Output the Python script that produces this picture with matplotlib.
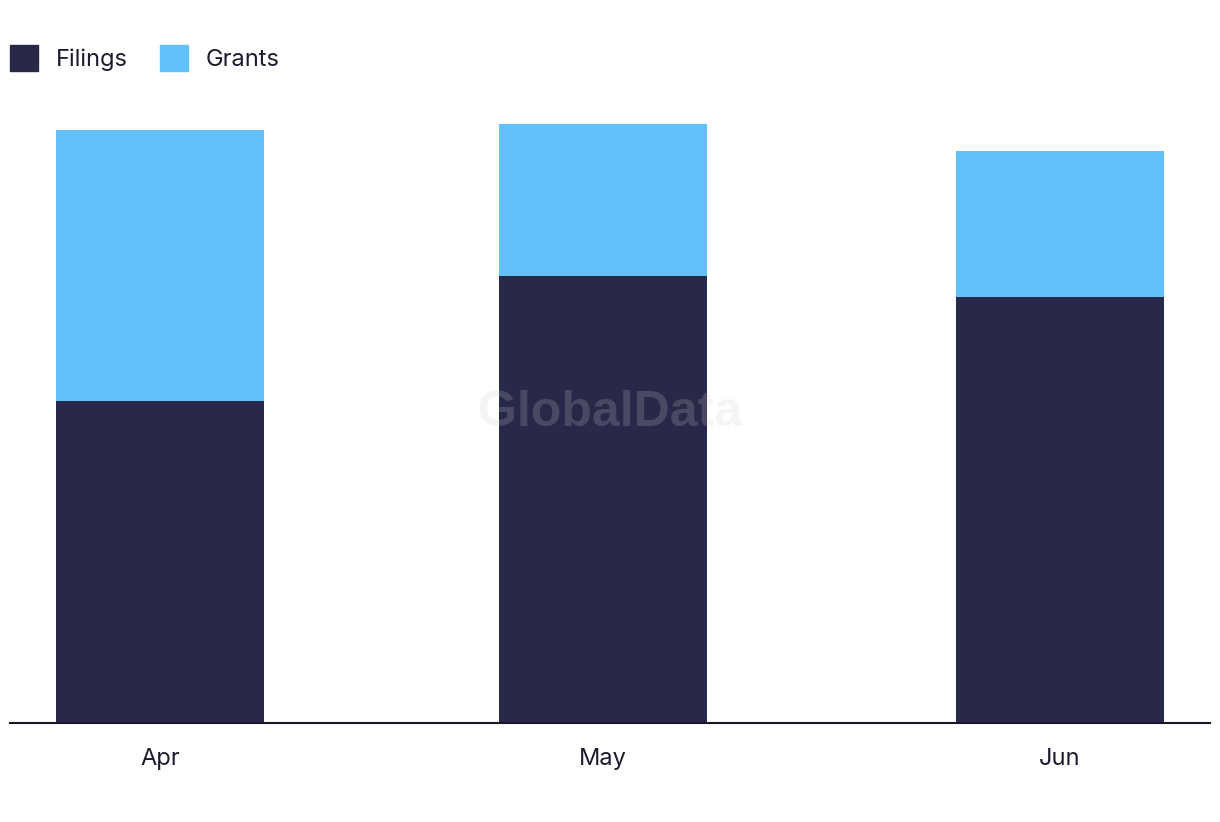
import matplotlib
matplotlib.use("Agg")
import matplotlib.pyplot as plt
import matplotlib.dates as mdates
from matplotlib.patches import Patch

months = ["Apr", "May", "Jun"]
dates = ["2023-04-01", "2023-05-01", "2023-06-01"]
filings = [322, 447, 426]
grants = [271, 152, 146]

c_fil = "#282849"
c_gr = "#62c1f8"
txt = "#1c1c30"

plt.rcParams['font.family'] = ['Inter', 'DejaVu Sans']

fig = plt.figure(figsize=(12.2, 8.22), dpi=100)
ax = fig.add_axes([10/1220, 1-723/822, 1200/1220, 623/822])

x = mdates.datestr2num(dates)
w = 14.1
ax.bar(x, filings, width=w, color=c_fil, label="Filings", zorder=2)
ax.bar(x, grants, width=w, bottom=filings, color=c_gr, label="Grants", zorder=2)

ax.set_xlim(x[0] - 10.17, x[-1] + 10.17)
ax.set_ylim(0, 623)
ax.set_xticks(x)
ax.set_xticklabels(months, fontsize=17, color=txt)
ax.tick_params(axis='x', length=0, pad=18)
ax.set_yticks([])
for s in ["top", "right", "left"]:
    ax.spines[s].set_visible(False)
ax.spines["bottom"].set_color("#161628")
ax.spines["bottom"].set_linewidth(1.5)

ax.text(0.5, 0.498, "GlobalData", transform=ax.transAxes, ha="center", va="center",
        fontsize=36, fontweight="bold", color="#cecece", alpha=0.2, zorder=5,
        family=['Liberation Sans', 'DejaVu Sans'])

handles = [Patch(color=c_fil, label="Filings"), Patch(color=c_gr, label="Grants")]
fig.legend(handles=handles, loc="upper left", bbox_to_anchor=(10/1220, 1-45/822),
           ncol=2, frameon=False, fontsize=17, handlelength=1.19, handleheight=1.34,
           handletextpad=0.75, columnspacing=1.38, labelcolor=txt,
           borderpad=0, borderaxespad=0)

fig.savefig("out.png", dpi=100, facecolor="white")
